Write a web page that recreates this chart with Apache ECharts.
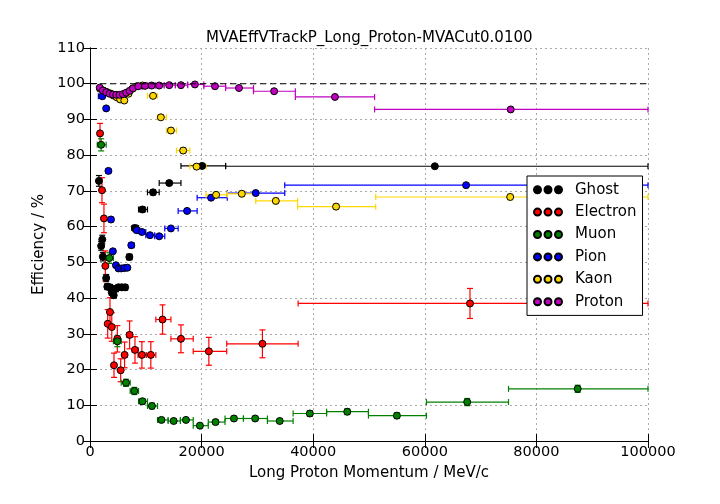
<!DOCTYPE html>
<html>
<head>
<meta charset="utf-8">
<script src="https://cdn.jsdelivr.net/npm/echarts@6/dist/echarts.min.js"></script>
<style>
html, body { margin: 0; padding: 0; background: #fff; }
#chart { width: 720px; height: 504px; }
</style>
</head>
<body>
<div id="chart"></div>
<script>
// momentum (MeV/c), efficiency (%), bin edges (MeV/c), efficiency error (%)
var ghostP = [1600, 2000, 2200, 2300, 2900, 3100, 3600, 3900, 4250, 4600, 5100, 5700, 6300, 7050, 8060, 9400, 11300, 14200, 20100, 61800];
var ghostEff = [72.8, 54.6, 56.4, 51.6, 45.6, 43.2, 43.0, 41.6, 40.8, 42.6, 43.0, 43.0, 43.0, 51.5, 59.6, 64.8, 69.6, 72.2, 77.0, 76.9];
var ghostEdges = [1200, 1850, 2100, 2250, 2600, 3000, 3350, 3750, 4050, 4450, 4850, 5400, 6000, 6600, 7500, 8700, 10300, 12400, 16300, 24300, 100000];
var ghostErr = [1.5, 1.2, 1.2, 1.2, 1.0, 0.8, 0.8, 0.8, 0.8, 0.8, 0.8, 0.8, 0.8, 0.8, 0.8, 0.7, 0.7, 0.6, 0.5, 0.4];

var elecP = [1800, 2150, 2500, 2750, 3170, 3580, 3900, 4300, 4900, 5500, 6200, 7100, 8060, 9300, 10900, 13000, 16300, 21300, 30900, 68100];
var elecEff = [86.1, 70.2, 62.3, 49.0, 32.8, 36.1, 31.9, 21.2, 28.6, 19.8, 24.1, 29.7, 25.5, 24.1, 24.1, 34.0, 28.6, 25.1, 27.2, 38.5];
var elecEdges = [1500, 2000, 2350, 2600, 3000, 3400, 3750, 4100, 4600, 5200, 5800, 6600, 7600, 8600, 10100, 11800, 14500, 18500, 24500, 37300, 100000];
var elecErr = [2.8, 3.5, 4.0, 4.2, 4.0, 4.0, 4.0, 3.4, 3.7, 3.2, 3.6, 3.9, 3.7, 3.7, 3.7, 4.1, 3.9, 3.9, 3.9, 4.2];

var muonP = [2000, 3460, 4900, 6450, 7950, 9400, 11100, 12800, 15000, 17200, 19700, 22500, 25800, 29600, 34000, 39400, 46100, 55000, 67600, 87400];
var muonEff = [82.9, 51.2, 27.9, 16.3, 14.0, 11.1, 9.8, 5.9, 5.6, 5.9, 4.3, 5.3, 6.3, 6.3, 5.6, 7.7, 8.2, 7.1, 10.9, 14.6];
var muonEdges = [1300, 2900, 4200, 5600, 7200, 8700, 10300, 12100, 14000, 16200, 18500, 21200, 24200, 27500, 31800, 36400, 42400, 49900, 60300, 75000, 100000];
var muonErr = [1.7, 1.5, 1.5, 1.0, 1.0, 0.8, 0.8, 0.6, 0.6, 0.6, 0.6, 0.6, 0.6, 0.6, 0.6, 0.8, 0.8, 0.8, 1.0, 1.0];

var pionP = [2200, 2900, 3300, 3760, 4100, 4650, 5100, 5600, 6150, 6700, 7400, 8400, 9300, 10750, 12400, 14500, 17400, 21700, 29700, 67400];
var pionEff = [96.5, 93.1, 75.6, 62.0, 53.1, 49.2, 48.3, 48.3, 48.4, 48.5, 54.8, 59.0, 58.5, 57.6, 57.3, 59.5, 64.4, 68.1, 69.4, 71.6];
var pionEdges = [1500, 2600, 3100, 3500, 3900, 4350, 4900, 5350, 5900, 6400, 7000, 7900, 8900, 10000, 11600, 13400, 15800, 19200, 24600, 34900, 100000];
var pionErr = [0.4, 0.5, 0.6, 0.6, 0.6, 0.5, 0.5, 0.5, 0.5, 0.5, 0.5, 0.5, 0.5, 0.5, 0.5, 0.5, 0.5, 0.5, 0.4, 0.4];

var kaonP = [1800, 2400, 3000, 3600, 4200, 4800, 5400, 6150, 6900, 7600, 8400, 9400, 11300, 12700, 14500, 16700, 19100, 22600, 27200, 33300, 44100, 75300];
var kaonEff = [98.6, 98.1, 97.7, 97.3, 96.7, 96.2, 95.6, 95.3, 97.2, 98.6, 99.3, 99.5, 96.6, 90.6, 86.9, 81.3, 76.8, 68.9, 69.2, 67.2, 65.6, 68.3];
var kaonEdges = [1500, 2100, 2700, 3300, 3900, 4500, 5100, 5800, 6500, 7250, 8000, 8900, 10300, 12100, 13700, 15500, 17900, 20800, 24600, 29700, 37200, 51200, 100000];
var kaonErr = [0.3, 0.3, 0.3, 0.3, 0.3, 0.3, 0.4, 0.4, 0.3, 0.3, 0.2, 0.2, 0.5, 0.6, 0.7, 0.8, 0.8, 0.8, 0.8, 0.8, 0.8, 0.8];

var protP = [1750, 2300, 2900, 3500, 4100, 4700, 5300, 5900, 6500, 7100, 7700, 8650, 9860, 11050, 12400, 14200, 16300, 18800, 22400, 26700, 33000, 43900, 75400];
var protEff = [98.9, 98.1, 97.6, 97.2, 97.0, 96.9, 96.9, 97.1, 97.5, 98.0, 98.7, 99.3, 99.4, 99.5, 99.5, 99.6, 99.6, 99.8, 99.3, 98.8, 97.9, 96.3, 92.8];
var protEdges = [1450, 2000, 2600, 3200, 3800, 4400, 5000, 5600, 6200, 6800, 7400, 8000, 9300, 10400, 11700, 13300, 15300, 17500, 20400, 24300, 29300, 36800, 51000, 100000];
var protErr = [0.2, 0.2, 0.2, 0.2, 0.2, 0.2, 0.2, 0.2, 0.2, 0.2, 0.2, 0.2, 0.2, 0.2, 0.2, 0.2, 0.2, 0.2, 0.2, 0.3, 0.3, 0.4, 0.5];

var xTicks = [0, 100000, 20000];
var yTicks = [0, 110, 10];
var refLine = [[0, 100], [100000, 100]];

var names = ['Ghost', 'Electron', 'Muon', 'Pion', 'Kaon', 'Proton'];
var colors = ['#000000', '#ff0000', '#008000', '#0000ff', '#ffd700', '#bf00bf'];
var sets = [
    [ghostP, ghostEff, ghostEdges, ghostErr],
    [elecP, elecEff, elecEdges, elecErr],
    [muonP, muonEff, muonEdges, muonErr],
    [pionP, pionEff, pionEdges, pionErr],
    [kaonP, kaonEff, kaonEdges, kaonErr],
    [protP, protEff, protEdges, protErr]
];

function buildRows(p, eff, edges, err) {
    var rows = [];
    for (var i = 0; i < p.length; i++) {
        rows.push([p[i], eff[i], edges[i], edges[i + 1], err[i]]);
    }
    return rows;
}

function errorBars(color) {
    return function (params, api) {
        var x = api.value(0), y = api.value(1);
        var l = api.coord([api.value(2), y]);
        var r = api.coord([api.value(3), y]);
        var t = api.coord([x, y + api.value(4)]);
        var b = api.coord([x, y - api.value(4)]);
        var cap = 3;
        var style = { stroke: color, lineWidth: 1.2 };
        var segs = [
            [l[0], l[1], r[0], r[1]],
            [t[0], t[1], b[0], b[1]],
            [l[0], l[1] - cap, l[0], l[1] + cap],
            [r[0], r[1] - cap, r[0], r[1] + cap],
            [t[0] - cap, t[1], t[0] + cap, t[1]],
            [b[0] - cap, b[1], b[0] + cap, b[1]]
        ];
        return {
            type: 'group',
            children: segs.map(function (s) {
                return { type: 'line', shape: { x1: s[0], y1: s[1], x2: s[2], y2: s[3] }, style: style };
            })
        };
    };
}

var series = [{
    name: 'ref',
    type: 'line',
    data: refLine,
    symbol: 'none',
    silent: true,
    lineStyle: { color: '#000', width: 1.2, type: [6, 4] }
}];

sets.forEach(function (s, i) {
    var rows = buildRows(s[0], s[1], s[2], s[3]);
    series.push({
        name: names[i] + ' err',
        type: 'custom',
        renderItem: errorBars(colors[i]),
        encode: { x: 0, y: 1 },
        data: rows
    });
    series.push({
        name: names[i],
        type: 'scatter',
        symbolSize: 7,
        itemStyle: { color: colors[i], borderColor: '#000', borderWidth: 1, opacity: 1 },
        data: rows.map(function (r) { return [r[0], r[1]]; })
    });
});

var axisFont = { fontSize: 15, color: '#000', fontFamily: 'DejaVu Sans' };
var dotted = { show: true, lineStyle: { color: '#aaa', width: 1, type: [2, 3] } };

var myChart = echarts.init(document.getElementById('chart'));
var option = {
    animation: false,
    backgroundColor: '#fff',
    textStyle: { fontFamily: 'DejaVu Sans' },
    graphic: [{
        type: 'text',
        left: 369 - 163,
        top: 31,
        style: { text: 'MVAEffVTrackP_Long_Proton-MVACut0.0100', fontSize: 15, fill: '#000', fontFamily: 'DejaVu Sans' }
    }],
    legend: {
        data: names,
        orient: 'vertical',
        left: 527,
        top: 176,
        padding: [5, 6, 5, 6],
        itemGap: 5,
        itemWidth: 28,
        itemHeight: 7,
        icon: 'path://M0,3.5a3.5,3.5 0 1,0 7,0a3.5,3.5 0 1,0 -7,0M10.5,3.5a3.5,3.5 0 1,0 7,0a3.5,3.5 0 1,0 -7,0M21,3.5a3.5,3.5 0 1,0 7,0a3.5,3.5 0 1,0 -7,0',
        borderColor: '#000',
        borderWidth: 1,
        borderRadius: 0,
        backgroundColor: '#fff',
        textStyle: { fontSize: 15, color: '#000', lineHeight: 17.4, padding: [0, 0, 0, 8], fontFamily: 'DejaVu Sans' }
    },
    grid: { left: 90, top: 48, width: 558, height: 393 },
    xAxis: [{
        type: 'value',
        min: xTicks[0], max: xTicks[1], interval: xTicks[2],
        name: 'Long Proton Momentum / MeV/c',
        nameLocation: 'middle',
        nameGap: 25,
        nameTextStyle: axisFont,
        axisLine: { lineStyle: { color: '#000', width: 1 } },
        axisTick: { inside: true, length: 7, lineStyle: { color: '#000' } },
        axisLabel: { fontSize: 14.5, color: '#000', margin: 4, formatter: function (v) { return String(v); } },
        splitLine: dotted
    }, {
        type: 'value',
        position: 'top',
        min: xTicks[0], max: xTicks[1], interval: xTicks[2],
        axisLine: { lineStyle: { color: '#000', width: 1 } },
        axisTick: { inside: true, length: 7, lineStyle: { color: '#000' } },
        axisLabel: { show: false },
        splitLine: { show: false }
    }],
    yAxis: [{
        type: 'value',
        min: yTicks[0], max: yTicks[1], interval: yTicks[2],
        name: 'Efficiency / %',
        nameLocation: 'middle',
        nameGap: 31,
        nameTextStyle: axisFont,
        axisLine: { lineStyle: { color: '#000', width: 1, type: [4, 3] } },
        axisTick: { inside: true, length: 7, lineStyle: { color: '#000' } },
        axisLabel: { fontSize: 14.5, color: '#000', margin: 5 },
        splitLine: dotted
    }, {
        type: 'value',
        position: 'right',
        min: yTicks[0], max: yTicks[1], interval: yTicks[2],
        axisLine: { show: true, lineStyle: { color: '#000', width: 1 } },
        axisTick: { show: true, inside: true, length: 7, lineStyle: { color: '#000' } },
        axisLabel: { show: false },
        splitLine: { show: false }
    }],
    series: series
};
myChart.setOption(option);
</script>
</body>
</html>
